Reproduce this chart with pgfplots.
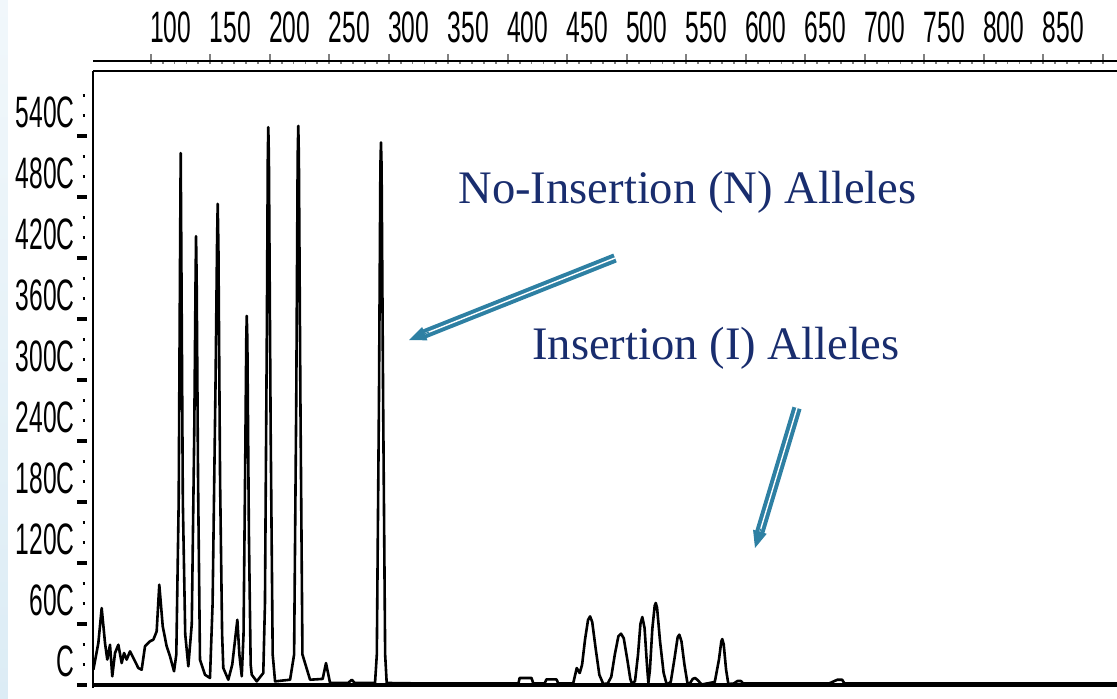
\documentclass[border=0pt]{standalone}
\usepackage{fontspec}
\setmainfont{Liberation Serif}
\newfontfamily\tickfont[FakeStretch=0.56]{Liberation Sans}
\usepackage{pgfplots}
\pgfplotsset{compat=1.18}
\usetikzlibrary{arrows.meta}

\definecolor{navytext}{RGB}{25,45,110}
\definecolor{arrowblue}{RGB}{46,128,163}
\definecolor{edgeblue}{RGB}{220,236,245}

\begin{document}
\begin{tikzpicture}
% pale strip at the left edge
\shade[top color=white!60!edgeblue, bottom color=edgeblue] (-46.5pt,-6.5pt) rectangle (-42.5pt,342.5pt);

\begin{axis}[
    at={(0,0)}, anchor=origin,
    scale only axis,
    width=512pt, height=308.5pt,
    xmin=51.5, xmax=912,
    ymin=-30, ymax=6040,
    axis x line*=top,
    axis y line*=left,
    axis line style={line width=1.1pt},
    tick align=outside,
    major tick length=5pt,
    minor tick length=1.2pt,
    xtick={100,150,...,900},
    xticklabels={100,150,200,250,300,350,400,450,500,550,600,650,700,750,800,850,},
    minor x tick num=4,
    x tick style={line width=0.9pt, yshift=3.5pt},
    xticklabel style={font=\tickfont\fontsize{22}{22}\selectfont, anchor=south, inner sep=0pt, xshift=10pt},
    xticklabel shift=9pt,
    ytick={0,600,...,5400},
    yticklabels={C,60C,120C,180C,240C,300C,360C,420C,480C,540C},
    minor ytick={200,400,800,1000,1400,1600,2000,2200,2600,2800,3200,3400,3800,4000,4400,4600,5000,5200,5600,5800},
    y tick style={line width=1.7pt, xshift=-3pt, black},
    minor y tick style={line width=1.7pt, xshift=-1pt, black},
    yticklabel style={font=\tickfont\fontsize{22}{22}\selectfont, anchor=east, inner sep=0pt, yshift=12pt},
    yticklabel shift=4pt,
    clip=true,
]
\addplot[black, line width=1.3pt, line join=round] coordinates {
(51.8,150) (56.0,413) (58.8,757) (61.6,413) (63.5,250) (65.8,396) (67.7,85) (70.0,315)
(72.8,396) (75.6,216) (77.6,315) (79.8,250) (82.6,331) (85.4,266) (89.6,167) (92.4,150)
(95.2,381) (99.4,430) (102.2,446) (105.0,528) (107.2,987) (110.1,577) (113.4,381)
(116.2,282) (119.6,135)
(121.5,300) (123.5,1800) (124.7,4300) (125.2,5233) (125.7,4300) (127.0,1800) (129.0,500) (131.6,184)
(134.5,600) (136.6,2500) (137.7,4000) (138.1,4416) (138.6,4000) (139.8,2000) (141.4,250)
(145.6,101) (149.8,69)
(152.0,800) (154.5,3000) (155.8,4400) (156.3,4734) (156.9,4300) (158.3,2000) (160.0,500)
(161.0,167) (165.2,52) (168.5,200) (172.8,642) (174.5,300) (176.5,86)
(178.0,500) (179.5,2300) (180.3,3400) (180.7,3632) (181.2,3400) (182.5,1500) (184.0,200)
(184.9,101) (189.1,36) (194.6,118)
(196.0,800) (197.6,3500) (198.4,5200) (198.8,5488) (199.3,5200) (200.8,2500) (202.5,300)
(204.5,36) (217.1,52)
(220.5,300) (222.3,2800) (223.5,5200) (224.0,5501) (224.5,5200) (225.8,2800) (227.5,300)
(233.9,52) (244.5,60) (247.3,216) (250.7,20) (266.0,20) (268.9,52) (271.5,20) (288.5,20)
(290.0,300) (291.8,2800) (293.0,5100) (293.5,5338) (294.0,5100) (295.3,2800) (297.0,300)
(298.3,20) (330,15) (380,15) (409,15) (410,69) (420,69) (421.5,15) (431,15) (432.5,55)
(441,55) (442.5,15)
(455,15) (458,167) (460.5,118) (462.5,200) (465,450) (467.5,640) (469.2,675) (471,620)
(474,350) (477,100) (480.3,10)
(484,15) (487,80) (490,300) (493,480) (495.2,505) (497.5,460) (500.5,250) (503,60) (504.5,10)
(507,40) (509.5,300) (511.5,600) (513.1,669) (515,560) (517,200) (518.2,20)
(519.5,150) (521.5,550) (523.5,780) (524.4,807) (525.5,760) (528,430) (531,120) (533.6,5)
(537,30) (540,250) (542.8,470) (544.2,495) (546,430) (548.5,200) (551,20)
(553,15) (555.5,60) (557.4,69) (559.5,50) (563,5)
(574,30) (577.5,250) (579.5,430) (580.3,452) (581.5,400) (583.5,150) (585.4,10)
(590,15) (593,39) (596,39) (598,15) (670,15) (677,52) (681,52) (683,15) (912,15)
};
\end{axis}

% frame: bottom line and the upper rule of the top scale
\draw[line width=1.6pt] (0,0) -- (520pt,0);
\draw[line width=0.7pt] (0,312pt) -- (520pt,312pt);

% annotations
\node[navytext, anchor=base, font=\fontsize{23.3}{23.3}\selectfont, inner sep=0pt] at (297.25pt,241pt) {No-Insertion (N) Alleles};
\node[navytext, anchor=base, font=\fontsize{23.3}{23.3}\selectfont, inner sep=0pt] at (311.5pt,163pt) {Insertion (I) Alleles};

\draw[arrowblue, line width=2pt, double=white, double distance=0.7pt, shorten >=7pt] (261pt,213.5pt) -- (158pt,172.5pt);
\draw[arrowblue, line width=0.5pt, -{Triangle[length=8.5pt,width=7pt]}, shorten <=100pt] (261pt,213.5pt) -- (158pt,172.5pt);
\draw[arrowblue, line width=2pt, double=white, double distance=0.7pt, shorten >=7pt] (352pt,138.5pt) -- (331pt,68.5pt);
\draw[arrowblue, line width=0.5pt, -{Triangle[length=8.5pt,width=7pt]}, shorten <=63pt] (352pt,138.5pt) -- (331pt,68.5pt);

\pgfresetboundingbox
\path[use as bounding box] (-46.5pt,-6.5pt) rectangle (512pt,342.5pt);
\end{tikzpicture}
\end{document}
